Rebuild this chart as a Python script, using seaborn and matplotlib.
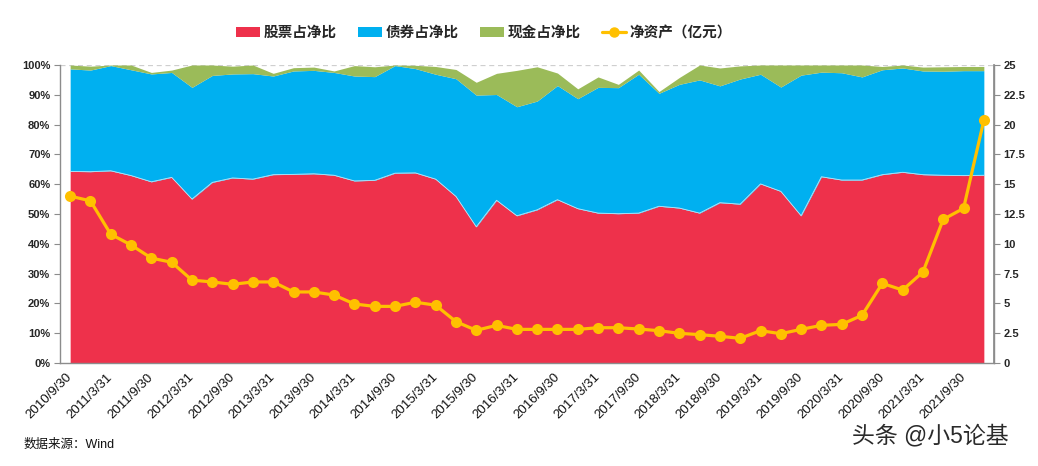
import numpy as np
import pandas as pd
import matplotlib
matplotlib.use("Agg")
import matplotlib.pyplot as plt
from matplotlib.patches import Patch
from matplotlib.lines import Line2D
from matplotlib.ticker import FixedLocator, FuncFormatter
import seaborn as sns

# ---------------- data ----------------
dates = pd.date_range("2010-09-30", "2021-12-31", freq="QE")
date_labels = [f"{d.year}/{d.month}/{d.day}" for d in dates]

stock_pct = [64.3, 64.2, 64.5, 62.9, 60.8, 62.3, 55.0, 60.6, 62.1, 61.7,
             63.2, 63.3, 63.5, 63.0, 61.1, 61.3, 63.7, 63.8, 61.7, 55.9,
             45.7, 54.6, 49.4, 51.4, 54.8, 51.8, 50.3, 50.1, 50.3, 52.6,
             52.0, 50.3, 53.8, 53.3, 60.1, 57.6, 49.4, 62.5, 61.4, 61.4,
             63.2, 64.0, 63.2, 63.0, 62.9, 63.0]
bond_pct = [34.4, 34.1, 35.3, 35.5, 36.2, 35.2, 37.5, 35.9, 34.9, 35.4,
            33.1, 34.7, 34.7, 34.5, 35.2, 34.8, 36.1, 35.0, 35.2, 39.5,
            44.2, 35.5, 36.6, 36.5, 38.3, 36.9, 42.2, 42.3, 46.6, 37.9,
            41.5, 44.7, 39.2, 42.0, 36.8, 35.0, 47.2, 35.1, 36.0, 34.6,
            35.2, 35.0, 34.8, 34.9, 35.2, 35.1]
cash_pct = [1.3, 1.3, 0.2, 1.6, 0.5, 0.8, 7.5, 3.5, 2.6, 2.9,
            0.9, 1.1, 1.1, 0.5, 3.5, 3.3, 0.2, 1.1, 2.6, 3.1,
            4.3, 7.1, 12.2, 11.5, 4.2, 3.3, 3.5, 1.1, 1.4, 0.6,
            2.3, 5.0, 6.0, 4.4, 3.1, 7.4, 3.4, 2.4, 2.6, 4.0,
            1.1, 1.0, 1.3, 1.5, 1.4, 1.4]
net_assets = [14.0, 13.6, 10.8, 9.9, 8.8, 8.45, 6.95, 6.8, 6.6, 6.8,
              6.8, 5.96, 5.96, 5.7, 4.95, 4.75, 4.75, 5.1, 4.85, 3.47,
              2.74, 3.16, 2.82, 2.82, 2.82, 2.82, 2.96, 2.96, 2.85, 2.71,
              2.49, 2.38, 2.24, 2.07, 2.71, 2.46, 2.82, 3.16, 3.24, 4.0,
              6.68, 6.12, 7.63, 12.05, 12.97, 20.35]

series_names = ["股票占净比", "债券占净比", "现金占净比", "净资产（亿元）"]

# ---------------- style ----------------
sns.set_theme(style="white")
plt.rcParams["font.family"] = ["Liberation Sans", "Noto Sans CJK SC", "DejaVu Sans"]

RED = "#EE314B"
BLUE = "#00B0F0"
GREEN = "#9BBB59"
GOLD = "#FFC000"
AXIS_GRAY = "#8C8C8C"

W, H = 1038, 466
fig = plt.figure(figsize=(W / 100, H / 100), dpi=100)
ax = fig.add_axes([60 / W, 1 - 363 / H, (994 - 60) / W, (363 - 65) / H])

x = np.arange(len(dates))
df = pd.DataFrame({"x": x, "net": net_assets})

ax.axhline(100, color="#CFCFCF", ls=(0, (4, 3)), lw=0.9, zorder=0.5)
ax.stackplot(x, stock_pct, bond_pct, cash_pct, colors=[RED, BLUE, GREEN],
             linewidth=0, zorder=1)
ax.plot(x, stock_pct, color="#BFE6F7", lw=0.6, zorder=1.5)

ax.set_xlim(-0.5, len(x) - 0.5)
ax.set_ylim(0, 100)

# x ticks: labels every other quarter, tick marks at category boundaries
ax.xaxis.set_major_locator(FixedLocator(x[::2]))
ax.set_xticklabels([date_labels[i] for i in x[::2]], rotation=45,
                   ha="right", va="center", rotation_mode="anchor",
                   fontsize=9.5, color="#111111")
ax.tick_params(axis="x", which="major", length=0, pad=9)
ax.xaxis.set_minor_locator(FixedLocator(np.arange(0.5, len(x) - 0.5, 1)))
ax.tick_params(axis="x", which="minor", length=4, width=0.8,
               color=AXIS_GRAY, direction="out")

ax.set_yticks(np.arange(0, 101, 10))
ax.yaxis.set_major_formatter(FuncFormatter(lambda v, p: f"{v:.0f}%"))
ax.tick_params(axis="y", length=4, width=0.8, color=AXIS_GRAY,
               direction="out", labelsize=8, pad=3)
for lab in ax.get_yticklabels():
    lab.set_fontweight("bold")

for side in ["left", "bottom", "right"]:
    ax.spines[side].set_visible(True)
    ax.spines[side].set_color(AXIS_GRAY)
    ax.spines[side].set_linewidth(1.0)
ax.spines["top"].set_visible(False)
ax.grid(False)

ax2 = ax.twinx()
sns.lineplot(data=df, x="x", y="net", ax=ax2, color=GOLD, lw=2.3,
             marker="o", markersize=8, markeredgecolor=GOLD,
             markeredgewidth=0, legend=False)
ax2.set_ylim(0, 25)
ax2.set_xlim(-0.5, len(x) - 0.5)
ax2.set_yticks(np.arange(0, 25.01, 2.5))
ax2.yaxis.set_major_formatter(FuncFormatter(lambda v, p: f"{v:g}"))
ax2.tick_params(axis="y", length=4, width=0.8, color=AXIS_GRAY,
                direction="out", labelsize=8, pad=3)
for lab in ax2.get_yticklabels():
    lab.set_fontweight("bold")
ax2.set_ylabel("")
ax2.set_xlabel("")
ax.set_xlabel("")
ax2.spines["top"].set_visible(False)
ax2.spines["right"].set_color(AXIS_GRAY)
ax2.spines["left"].set_visible(False)
ax2.spines["bottom"].set_visible(False)
ax2.grid(False)

handles = [
    Patch(facecolor=RED, edgecolor="none"),
    Patch(facecolor=BLUE, edgecolor="none"),
    Patch(facecolor=GREEN, edgecolor="none"),
    Line2D([0], [0], color=GOLD, lw=2.3, marker="o", markersize=6.5),
]
leg = fig.legend(handles, series_names, loc="center", ncol=4,
                 bbox_to_anchor=(484 / W, 1 - 33 / H), frameon=False,
                 prop={"size": 10.5, "weight": "bold"},
                 handlelength=1.6, handleheight=0.7, handletextpad=0.25,
                 columnspacing=1.5)

fig.text(24 / W, 1 - 445 / H, "数据来源：Wind", fontsize=9, color="#111111",
         ha="left", va="center")
fig.text(1009 / W, 1 - 436 / H, "头条 @小5论基", fontsize=16.5, color="#2A2A2A",
         ha="right", va="center")

fig.savefig("out.png", dpi=100)
